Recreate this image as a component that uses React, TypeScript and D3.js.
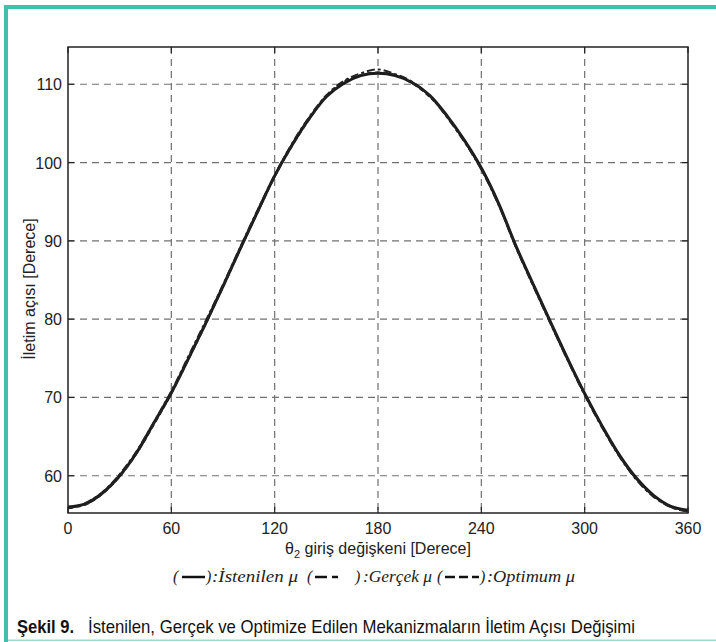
import React from "react";
import * as d3 from "d3";

// Input crank angle θ2 in degrees
const theta = [0, 10, 20, 30, 40, 50, 60, 70, 80, 90, 100, 110, 120, 130, 140, 150, 160, 170, 180,
  190, 200, 210, 220, 230, 240, 250, 260, 270, 280, 290, 300, 310, 320, 330, 340, 350, 360];

// Desired transmission angle (İstenilen μ)
const desired = [56.0, 56.4, 57.8, 60.0, 63.0, 66.8, 70.6, 75.0, 79.5, 84.2, 89.0, 93.7, 98.3, 102.2, 105.6, 108.4, 110.1, 111.1, 111.4,
  111.1, 110.2, 108.6, 106.0, 102.9, 99.3, 94.8, 89.4, 84.5, 79.7, 75.0, 70.5, 66.4, 62.7, 59.7, 57.5, 56.1, 55.6];

// Actual mechanism (Gerçek μ)
const actual = [55.8, 56.5, 57.9, 60.2, 63.2, 66.9, 70.8, 75.3, 79.8, 84.4, 89.2, 93.9, 98.4, 102.4, 105.8, 108.6, 110.4, 111.4, 111.9,
  111.3, 110.3, 108.5, 105.8, 102.7, 99.1, 94.6, 89.2, 84.3, 79.5, 74.8, 70.3, 66.2, 62.5, 59.5, 57.3, 56.0, 55.4];

// Optimised mechanism (Optimum μ)
const optimum = [55.9, 56.3, 57.7, 59.9, 62.9, 66.6, 70.5, 74.9, 79.4, 84.1, 88.9, 93.6, 98.2, 102.1, 105.5, 108.5, 110.3, 111.2, 111.5,
  111.2, 110.1, 108.4, 105.9, 102.8, 99.2, 94.7, 89.3, 84.4, 79.6, 74.9, 70.4, 66.3, 62.6, 59.6, 57.4, 56.0, 55.5];

const xTicks = [0, 60, 120, 180, 240, 300, 360];
const yTicks = [60, 70, 80, 90, 100, 110];

const W = 716;
const H = 642;
const plot = { left: 68, right: 688, top: 47, bottom: 513 };
const teal = "#3fbfac";

export default function App() {
  const x = d3.scaleLinear().domain([0, 360]).range([plot.left, plot.right]);
  const y = d3.scaleLinear().domain([55.24, 114.76]).range([plot.bottom, plot.top]);

  const line = (vals: number[]) =>
    d3
      .line<number>()
      .x((_, i) => x(theta[i]))
      .y((v) => y(v))
      .curve(d3.curveCatmullRom.alpha(0.5))(vals) || "";

  const axisFont = "'Liberation Sans', Arial, sans-serif";
  const legendFont = "'Liberation Serif', 'Times New Roman', serif";
  const legendY = 582;
  const mark = (x1: number, x2: number) => (
    <line x1={x1} x2={x2} y1={legendY - 5} y2={legendY - 5} stroke="#111" strokeWidth={2.5} />
  );

  return (
    <svg
      width={W}
      height={H}
      style={{ position: "absolute", left: 0, top: 0, background: "#fff" }}
    >
      {/* frame */}
      <rect x={4} y={5} width={W - 4} height={4} fill={teal} />
      <rect x={4} y={5} width={4} height={H - 5} fill={teal} />
      <rect x={8} y={639.5} width={W - 8} height={1.5} fill="#9fdcd2" />

      {/* grid */}
      <g stroke="#707070" strokeWidth={1.2} strokeDasharray="7,5">
        {xTicks.slice(1, -1).map((t) => (
          <line key={"gx" + t} x1={x(t)} x2={x(t)} y1={plot.top} y2={plot.bottom} />
        ))}
        {yTicks.map((t) => (
          <line key={"gy" + t} x1={plot.left} x2={plot.right} y1={y(t)} y2={y(t)} />
        ))}
      </g>

      {/* tick marks */}
      <g stroke="#222" strokeWidth={1.2}>
        {xTicks.map((t) => (
          <g key={"tx" + t}>
            <line x1={x(t)} x2={x(t)} y1={plot.bottom} y2={plot.bottom - 6} />
            <line x1={x(t)} x2={x(t)} y1={plot.top} y2={plot.top + 6} />
          </g>
        ))}
        {yTicks.map((t) => (
          <g key={"ty" + t}>
            <line x1={plot.left} x2={plot.left + 6} y1={y(t)} y2={y(t)} />
            <line x1={plot.right} x2={plot.right - 6} y1={y(t)} y2={y(t)} />
          </g>
        ))}
      </g>

      {/* curves */}
      <path d={line(desired)} fill="none" stroke="#1a1a1a" strokeWidth={3} strokeLinejoin="round" />
      <path d={line(actual)} fill="none" stroke="#222" strokeWidth={2} strokeDasharray="8,3,3,3" />
      <path d={line(optimum)} fill="none" stroke="#222" strokeWidth={2} strokeDasharray="5,3" />

      {/* axes box */}
      <rect
        x={plot.left}
        y={plot.top}
        width={plot.right - plot.left}
        height={plot.bottom - plot.top}
        fill="none"
        stroke="#222"
        strokeWidth={1.5}
      />

      {/* tick labels */}
      <g fontFamily={axisFont} fontSize={16} fill="#222">
        {xTicks.map((t) => (
          <text key={"lx" + t} x={x(t)} y={534} textAnchor="middle">
            {t}
          </text>
        ))}
        {yTicks.map((t) => (
          <text key={"ly" + t} x={62} y={y(t) + 6} textAnchor="end">
            {t}
          </text>
        ))}
      </g>

      {/* axis titles */}
      <text x={378} y={554} textAnchor="middle" fontFamily={axisFont} fontSize={16} fill="#222">
        θ<tspan fontSize={11} dy={4}>2</tspan>
        <tspan dy={-4}> giriş değişkeni [Derece]</tspan>
      </text>
      <text
        transform="translate(35,289) rotate(-90)"
        textAnchor="middle"
        fontFamily={axisFont}
        fontSize={16}
        fill="#222"
      >
        İletim açısı [Derece]
      </text>

      {/* legend */}
      <g fontFamily={legendFont} fontStyle="italic" fontSize={16} fill="#222">
        <text x={173} y={legendY}>(</text>
        {mark(182, 205)}
        <text x={206} y={legendY}>)</text>
        <text x={212} y={legendY} textLength={86} lengthAdjust="spacingAndGlyphs">:İstenilen μ</text>

        <text x={307} y={legendY}>(</text>
        {mark(315, 327)}
        {mark(332, 338)}
        <text x={355} y={legendY}>)</text>
        <text x={363} y={legendY} textLength={69} lengthAdjust="spacingAndGlyphs">:Gerçek μ</text>

        <text x={437} y={legendY}>(</text>
        {mark(445, 455)}
        {mark(459, 468)}
        {mark(472, 479)}
        <text x={480} y={legendY}>)</text>
        <text x={487} y={legendY} textLength={88} lengthAdjust="spacingAndGlyphs">:Optimum μ</text>
      </g>

      {/* caption */}
      <g fontFamily="'Liberation Sans Narrow', 'Liberation Sans', Arial, sans-serif" fontSize={19} fill="#111">
        <text x={17} y={633} fontWeight="bold" textLength={57} lengthAdjust="spacingAndGlyphs">
          Şekil 9.
        </text>
        <text x={88} y={633} textLength={547} lengthAdjust="spacingAndGlyphs">
          İstenilen, Gerçek ve Optimize Edilen Mekanizmaların İletim Açısı Değişimi
        </text>
      </g>
    </svg>
  );
}
